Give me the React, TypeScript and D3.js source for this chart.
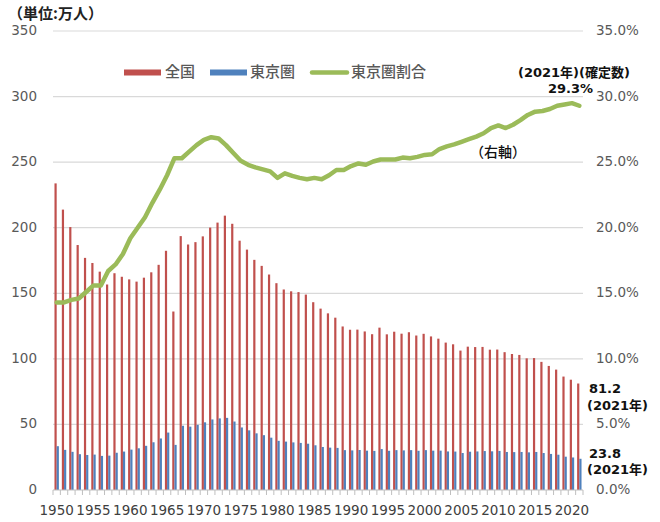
import React from 'react'
import * as d3 from 'd3'

const years = d3.range(1950, 2022)

// births, 10,000 people
const zenkoku = [
  233.8, 213.8, 200.5, 186.8, 177.0, 173.1, 166.5, 156.7, 165.3, 162.6,
  160.6, 158.9, 161.9, 166.0, 171.7, 182.4, 136.1, 193.6, 187.2, 189.0,
  193.4, 200.1, 203.9, 209.2, 203.0, 190.1, 183.3, 175.5, 170.9, 164.3,
  157.7, 152.9, 151.5, 150.9, 149.0, 143.2, 138.3, 134.7, 131.4, 124.7,
  122.2, 122.3, 120.9, 118.8, 123.8, 118.7, 120.7, 119.2, 120.3, 117.8,
  119.1, 117.1, 115.4, 112.4, 111.1, 106.3, 109.3, 109.0, 109.1, 107.0,
  107.1, 105.1, 103.7, 103.0, 100.4, 100.6, 97.7, 94.6, 91.8, 86.5,
  84.1, 81.2,
]

const tokyoken = [
  33.4, 30.6, 29.1, 27.3, 26.7, 27.0, 26.0, 26.2, 28.4, 29.3,
  30.8, 31.8, 33.7, 36.4, 39.3, 43.8, 34.4, 49.0, 48.3, 49.7,
  51.6, 53.8, 54.6, 55.0, 52.2, 47.7, 45.5, 43.2, 41.8, 39.9,
  37.5, 36.9, 36.3, 35.9, 35.3, 34.1, 32.8, 32.3, 32.1, 30.4,
  30.2, 30.5, 30.0, 29.8, 31.2, 29.9, 30.4, 30.2, 30.4, 29.9,
  30.4, 30.0, 30.0, 29.4, 29.3, 28.2, 29.2, 29.4, 29.7, 29.5,
  29.8, 29.0, 28.9, 29.0, 28.7, 29.0, 28.2, 27.5, 26.9, 25.4,
  24.8, 23.8,
]

// share of Tokyo area, %
const wariai = [
  14.3, 14.3, 14.5, 14.6, 15.1, 15.6, 15.6, 16.7, 17.2, 18.0,
  19.2, 20.0, 20.8, 21.9, 22.9, 24.0, 25.3, 25.3, 25.8, 26.3,
  26.7, 26.9, 26.8, 26.3, 25.7, 25.1, 24.8, 24.6, 24.45, 24.3,
  23.8, 24.15, 23.95, 23.8, 23.7, 23.8, 23.7, 24.0, 24.4, 24.4,
  24.7, 24.9, 24.8, 25.05, 25.2, 25.2, 25.2, 25.35, 25.3, 25.4,
  25.55, 25.6, 26.0, 26.2, 26.35, 26.55, 26.75, 26.95, 27.2, 27.6,
  27.8, 27.6, 27.85, 28.2, 28.6, 28.85, 28.9, 29.05, 29.3, 29.4,
  29.5, 29.3,
]

const leftTicks = [0, 50, 100, 150, 200, 250, 300, 350]
const rightTicks = [0, 5, 10, 15, 20, 25, 30, 35]
const xLabels = [1950, 1955, 1960, 1965, 1970, 1975, 1980, 1985, 1990, 1995, 2000, 2005, 2010, 2015, 2020]

const font = "'DejaVu Sans', 'Noto Sans CJK JP', sans-serif"
const jpFont = "'Noto Sans CJK JP', sans-serif"
const RED = '#c0504d'
const BLUE = '#4f81bd'
const GREEN = '#9bbb59'

const App = () => {
  const left = 53
  const right = 583
  const top = 31
  const bottom = 490

  const x = d3.scaleBand<number>().domain(years).range([left, right])
  const y = d3.scaleLinear().domain([0, 350]).range([bottom, top])
  const y2 = d3.scaleLinear().domain([0, 35]).range([bottom, top])
  const bw = 2.2

  const line = d3.line<number>()
    .x((d, i) => x(years[i])! + x.bandwidth() / 2)
    .y(d => y2(d))

  return (
    <svg width={660} height={522} style={{ position: 'absolute', left: 0, top: 0, background: '#fff' }} fontFamily={font}>
      {leftTicks.slice(1).map(t => (
        <line key={t} x1={left} x2={right} y1={y(t)} y2={y(t)} stroke="#d9d9d9" strokeWidth={1.2} />
      ))}

      {years.map((yr, i) => {
        const cx = x(yr)! + x.bandwidth() / 2
        return (
          <g key={yr}>
            <rect x={cx - bw} width={bw} y={y(zenkoku[i])} height={bottom - y(zenkoku[i])} fill={RED} />
            <rect x={cx} width={bw} y={y(tokyoken[i])} height={bottom - y(tokyoken[i])} fill={BLUE} />
          </g>
        )
      })}

      <line x1={left} x2={right} y1={bottom} y2={bottom} stroke="#bfbfbf" strokeWidth={1.2} />
      {[...years, 2022].map((yr, i) => {
        const tx = left + i * x.step()
        return <line key={yr} x1={tx} x2={tx} y1={bottom} y2={bottom + 5} stroke="#bfbfbf" strokeWidth={1} />
      })}

      <path d={line(wariai) ?? ''} fill="none" stroke={GREEN} strokeWidth={4.5} strokeLinejoin="round" strokeLinecap="round" />

      {leftTicks.map(t => (
        <text key={t} x={37} y={y(t)} textAnchor="end" dominantBaseline="middle" fontSize={13.5} fill="#595959">{t}</text>
      ))}
      {rightTicks.map(t => (
        <text key={t} x={596} y={y2(t)} dominantBaseline="middle" fontSize={13.5} fill="#595959">{t.toFixed(1)}%</text>
      ))}
      {xLabels.map(t => (
        <text key={t} x={x(t)! + x.bandwidth() / 2} y={515} textAnchor="middle" fontSize={13.5} fill="#404040">{t}</text>
      ))}

      <text x={8} y={19} fontSize={15} fontWeight="bold" fill="#222" fontFamily={jpFont}>（単位:万人）</text>

      <g fontSize={15} fill="#595959" dominantBaseline="middle" fontFamily={jpFont} fontWeight={500}>
        <rect x={124} y={69.5} width={37} height={6} fill={RED} />
        <text x={165} y={73}>全国</text>
        <rect x={210} y={69.5} width={37} height={6} fill={BLUE} />
        <text x={250} y={73}>東京圏</text>
        <line x1={312} x2={347} y1={72.5} y2={72.5} stroke={GREEN} strokeWidth={4.5} strokeLinecap="round" />
        <text x={351} y={73}>東京圏割合</text>
      </g>

      <g fontSize={13} fill="#111" fontWeight="bold">
        <text x={518} y={77}>(2021年)(確定数)</text>
        <text x={593} y={93} textAnchor="end">29.3%</text>
        <text x={470} y={157} fontSize={14} fontWeight={500} fontFamily={jpFont}>（右軸）</text>
        <text x={589} y={393}>81.2</text>
        <text x={587} y={410}>(2021年)</text>
        <text x={589} y={458}>23.8</text>
        <text x={587} y={474}>(2021年)</text>
      </g>
    </svg>
  )
}

export default App
